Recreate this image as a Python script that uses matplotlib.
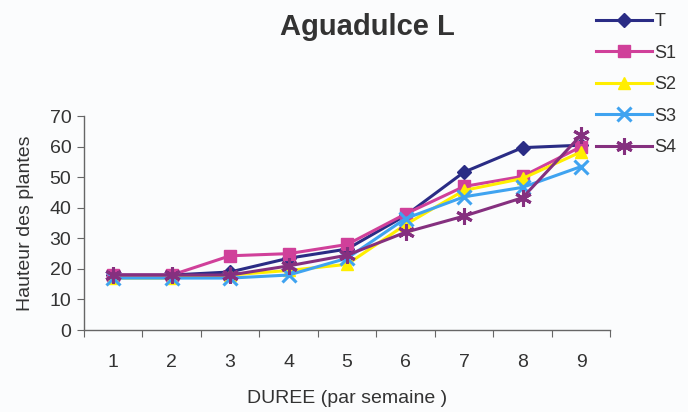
import matplotlib
matplotlib.use("Agg")
import matplotlib.pyplot as plt
from matplotlib.ticker import FixedLocator, NullFormatter

plt.rcParams['font.family'] = ['Liberation Sans', 'DejaVu Sans']

weeks = ["1", "2", "3", "4", "5", "6", "7", "8", "9"]
T = [18, 18, 19, 23.5, 26.5, 37.5, 51.7, 59.7, 60.5]
S1 = [18, 18, 24.3, 25, 28, 38, 47, 50.3, 60]
S2 = [17, 17, 18, 19.5, 21.5, 34.5, 45.7, 49.6, 58.3]
S3 = [17, 17, 17, 18, 23.5, 36.5, 43.6, 46.7, 53.5]
S4 = [18, 18, 18, 21, 24.5, 32, 37.3, 43.3, 63.8]

series = [
    ("T", T, "#2a2c85", "D", 7.5),
    ("S1", S1, "#d0409a", "s", 9),
    ("S2", S2, "#ffee00", "^", 9),
    ("S3", S3, "#3fa3f0", "x", 9.5),
    ("S4", S4, "#85307f", (6, 2, 0), 12),
]

fig = plt.figure(figsize=(6.88, 4.12), dpi=100, facecolor="#fbfcfd")
ax = fig.add_axes([0.122, 0.199, 0.765, 0.519])
ax.set_facecolor("#fbfcfd")

x = list(range(len(weeks)))
for name, vals, col, mk, ms in series:
    ax.plot(x, vals, color=col, linewidth=2.2, marker=mk, markersize=ms,
            markeredgewidth=2.2 if mk == "x" or isinstance(mk, tuple) else 1,
            markeredgecolor=col, markerfacecolor=col, label=name)

ax.set_xlim(-0.5, len(weeks) - 0.5)
ax.set_ylim(0, 70)
ax.set_yticks(range(0, 71, 10))

# category boundaries carry the tick marks, labels sit at the centres
ax.xaxis.set_major_locator(FixedLocator([i - 0.5 for i in range(len(weeks) + 1)]))
ax.xaxis.set_major_formatter(NullFormatter())
ax.xaxis.set_minor_locator(FixedLocator(x))
ax.set_xticklabels(weeks, minor=True)
ax.tick_params(axis="x", which="minor", length=0, pad=17, labelsize=14, labelcolor="#333333")
ax.tick_params(axis="x", which="major", length=5, direction="out", color="#666666")
ax.tick_params(axis="y", length=5, direction="out", color="#666666", labelsize=14,
               labelcolor="#333333", pad=4)

for s in ("top", "right"):
    ax.spines[s].set_visible(False)
for s in ("left", "bottom"):
    ax.spines[s].set_color("#666666")
    ax.spines[s].set_linewidth(1)

ax.set_xlabel("DUREE (par semaine )", fontsize=14, color="#333333", labelpad=14)
ax.set_ylabel("Hauteur des plantes", fontsize=14, color="#333333", labelpad=11)

fig.text(0.534, 0.935, "Aguadulce L", ha="center", va="center", fontsize=21,
         fontweight="bold", color="#333333")

fig.legend(loc="upper left", bbox_to_anchor=(0.842, 1.007), frameon=False,
           fontsize=13, handlelength=3.1, handletextpad=0.15, labelspacing=0.8,
           labelcolor="#333333")

fig.savefig("out.png", dpi=100, facecolor=fig.get_facecolor())
